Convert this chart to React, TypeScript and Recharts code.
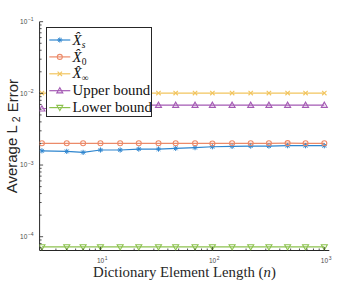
import React from 'react';
import { LineChart, Line, XAxis, YAxis, Legend } from 'recharts';

// ---- data ----
const nValues = [3, 5, 7, 10, 15, 22, 33, 47, 70, 100, 150, 220, 320, 470, 680, 1000];
const errXs = [1.58e-3, 1.55e-3, 1.5e-3, 1.62e-3, 1.62e-3, 1.67e-3, 1.67e-3, 1.71e-3, 1.75e-3, 1.8e-3, 1.82e-3, 1.84e-3, 1.84e-3, 1.86e-3, 1.86e-3, 1.86e-3];
const errX0 = [2.01e-3, 2.01e-3, 2.01e-3, 2.01e-3, 2.01e-3, 2.01e-3, 2.01e-3, 2.01e-3, 2.01e-3, 2.0e-3, 2.01e-3, 2.01e-3, 2.01e-3, 2.02e-3, 2.01e-3, 2.01e-3];
const errXinf = [1.01e-2, 1.01e-2, 1.01e-2, 1.01e-2, 1.01e-2, 1.01e-2, 1.01e-2, 1.01e-2, 1.01e-2, 1.01e-2, 1.01e-2, 1.01e-2, 1.01e-2, 1.01e-2, 1.01e-2, 1.01e-2];
const upperBound = [6.1e-3, 6.4e-3, 6.6e-3, 6.75e-3, 6.8e-3, 6.85e-3, 6.85e-3, 6.85e-3, 6.85e-3, 6.85e-3, 6.85e-3, 6.85e-3, 6.85e-3, 6.85e-3, 6.85e-3, 6.85e-3];
const lowerBound = [7.2e-5, 7.2e-5, 7.2e-5, 7.2e-5, 7.2e-5, 7.2e-5, 7.2e-5, 7.2e-5, 7.2e-5, 7.2e-5, 7.2e-5, 7.2e-5, 7.2e-5, 7.2e-5, 7.2e-5, 7.2e-5];

const X_DOMAIN: [number, number] = [2.86, 1108];
const Y_DOMAIN: [number, number] = [6.42e-5, 0.1];
const xDecades = [0, 1, 2, 3];
const yDecades = [-5, -4, -3, -2, -1];
const mantissas = [1, 2, 3, 4, 5, 6, 7, 8, 9];

const buildTicks = (decades: number[], dom: [number, number]) => {
  const out: number[] = [];
  decades.forEach((d) =>
    mantissas.forEach((m) => {
      const v = m * Math.pow(10, d);
      if (v >= dom[0] * 0.999 && v <= dom[1] * 1.001) out.push(v);
    })
  );
  return out;
};
const xTicks = buildTicks(xDecades, X_DOMAIN);
const yTicks = buildTicks(yDecades, Y_DOMAIN);

type Series = { key: string; values: number[]; hat: boolean; label: string; sub?: string; subItalic?: boolean; color: string; marker: string };
const SERIES: Series[] = [
  { key: 'xs', values: errXs, hat: true, label: 'X\u0302', sub: 's', subItalic: true, color: '#2F86CF', marker: 'star' },
  { key: 'x0', values: errX0, hat: true, label: 'X\u0302', sub: '0', color: '#EC8A69', marker: 'circle' },
  { key: 'xinf', values: errXinf, hat: true, label: 'X\u0302', sub: '\u221E', color: '#F2C55E', marker: 'x' },
  { key: 'ub', values: upperBound, hat: false, label: 'Upper bound', color: '#A45AB4', marker: 'triUp' },
  { key: 'lb', values: lowerBound, hat: false, label: 'Lower bound', color: '#8CC24E', marker: 'triDown' },
];

const rows = nValues.map((n, i) => {
  const r: Record<string, number> = { n };
  SERIES.forEach((s) => (r[s.key] = s.values[i]));
  return r;
});

const AXIS = '#262626';
const TICKTXT = '#4a4a4a';
const SANS = 'Liberation Sans, Arial, Helvetica, sans-serif';
const SERIF = 'Liberation Serif, Times New Roman, serif';

const isDecade = (v: number) => Math.abs(Math.log10(v) - Math.round(Math.log10(v))) < 1e-6;
const expText = (v: number) => {
  const e = Math.round(Math.log10(v));
  return e < 0 ? `\u2212${-e}` : String(e);
};

function Marker({ type, cx, cy, color }: { type: string; cx: number; cy: number; color: string }) {
  if (cx == null || cy == null || isNaN(cx) || isNaN(cy)) return null;
  const r = 2.6;
  const d = r * 0.72;
  switch (type) {
    case 'star':
      return (
        <g stroke={color} strokeWidth={1}>
          <line x1={cx - r} y1={cy} x2={cx + r} y2={cy} />
          <line x1={cx} y1={cy - r} x2={cx} y2={cy + r} />
          <line x1={cx - d} y1={cy - d} x2={cx + d} y2={cy + d} />
          <line x1={cx - d} y1={cy + d} x2={cx + d} y2={cy - d} />
        </g>
      );
    case 'circle':
      return <circle cx={cx} cy={cy} r={2.5} fill="none" stroke={color} strokeWidth={1.1} />;
    case 'x':
      return (
        <g stroke={color} strokeWidth={1.1}>
          <line x1={cx - 2.2} y1={cy - 2.2} x2={cx + 2.2} y2={cy + 2.2} />
          <line x1={cx - 2.2} y1={cy + 2.2} x2={cx + 2.2} y2={cy - 2.2} />
        </g>
      );
    case 'triUp':
      return <polygon points={`${cx},${cy - 3} ${cx - 3},${cy + 2.2} ${cx + 3},${cy + 2.2}`} fill="none" stroke={color} strokeWidth={1.1} />;
    case 'triDown':
      return <polygon points={`${cx},${cy + 3} ${cx - 3},${cy - 2.2} ${cx + 3},${cy - 2.2}`} fill="none" stroke={color} strokeWidth={1.1} />;
    default:
      return null;
  }
}

function XTick(props: any) {
  const { x, y, payload } = props;
  const v = payload.value;
  const major = isDecade(v);
  return (
    <g>
      <line x1={x} y1={y} x2={x} y2={y - (major ? 3.5 : 2)} stroke={AXIS} strokeWidth={0.8} />
      {major && (
        <text x={x - 3.5} y={y + 12} textAnchor="start" fontFamily={SANS} fontSize={6.5} fill={TICKTXT}>
          10
          <tspan dx={0.6} dy={-3} fontSize={5}>{expText(v)}</tspan>
        </text>
      )}
    </g>
  );
}

function YTick(props: any) {
  const { x, y, payload } = props;
  const v = payload.value;
  const major = isDecade(v);
  return (
    <g>
      <line x1={x} y1={y} x2={x + (major ? 3.5 : 2)} y2={y} stroke={AXIS} strokeWidth={0.8} />
      {major && (
        <text x={x - 6} y={y + 2.3} textAnchor="end" fontFamily={SANS} fontSize={6.5} fill={TICKTXT}>
          10
          <tspan dx={0.6} dy={-2.6} fontSize={5}>{expText(v)}</tspan>
        </text>
      )}
    </g>
  );
}

function YTitle(props: any) {
  const vb = props.viewBox || { x: 0, y: 21.7, width: 39.6, height: 228.8 };
  const cx = 12;
  const cy = vb.y + vb.height / 2;
  return (
    <text
      x={cx}
      y={cy}
      transform={`rotate(-90 ${cx} ${cy})`}
      textAnchor="middle"
      dominantBaseline="central"
      fontFamily={SANS}
      fontSize={15}
      fill={AXIS}
    >
      Average L
      <tspan dx={3} dy={4} fontSize={10.5}>2</tspan>
      <tspan dy={-4}> Error</tspan>
    </text>
  );
}

function XTitle(props: any) {
  const vb = props.viewBox || { x: 39.6, y: 250.5, width: 289.7, height: 30 };
  return (
    <text x={vb.x + vb.width / 2} y={vb.y + 26.2} textAnchor="middle" fontFamily={SERIF} fontSize={14.8} fill={AXIS}>
      Dictionary Element Length (<tspan fontStyle="italic">n</tspan>)
    </text>
  );
}

function LegendBox() {
  const w = 106.6;
  const h = 90.6;
  return (
    <div style={{ width: w, height: h, boxSizing: 'border-box', border: `1px solid ${AXIS}`, background: '#fff' }}>
      <svg width={w - 2} height={h - 2} style={{ display: 'block' }}>
        {SERIES.map((s, i) => {
          const cy = 12 + i * 16.9;
          return (
            <g key={s.key}>
              <line x1={2.3} x2={23.3} y1={cy} y2={cy} stroke={s.color} strokeWidth={1.2} />
              <Marker type={s.marker} cx={12.8} cy={cy} color={s.color} />
              <text x={25.6} y={cy + 4.6} fontFamily={SERIF} fontSize={14.8} fill="#111">
                {s.hat ? <tspan fontStyle="italic">{s.label}</tspan> : s.label}
                {s.sub && (
                  <tspan dy={3} fontSize={9.5} fontStyle={s.subItalic ? 'italic' : 'normal'}>
                    {s.sub}
                  </tspan>
                )}
              </text>
            </g>
          );
        })}
      </svg>
    </div>
  );
}

export default function App() {
  return (
    <div style={{ position: 'absolute', left: 0, top: 0, width: 337, height: 281, background: '#fff' }}>
      <LineChart width={337} height={281} data={rows} margin={{ top: 21.7, right: 7.7, bottom: 0.5, left: 0 }}>
        <XAxis
          dataKey="n"
          type="number"
          scale="log"
          domain={X_DOMAIN}
          allowDataOverflow
          ticks={xTicks}
          interval={0}
          tickSize={0}
          tickMargin={0}
          tick={<XTick />}
          tickLine={false}
          axisLine={{ stroke: AXIS, strokeWidth: 1 }}
          height={30}
          label={<XTitle />}
        />
        <YAxis
          type="number"
          scale="log"
          domain={Y_DOMAIN}
          allowDataOverflow
          ticks={yTicks}
          interval={0}
          tickSize={0}
          tickMargin={0}
          tick={<YTick />}
          tickLine={false}
          axisLine={{ stroke: AXIS, strokeWidth: 1 }}
          width={39.6}
          label={<YTitle />}
        />
        {SERIES.map((s) => (
          <Line
            key={s.key}
            dataKey={s.key}
            name={s.key}
            stroke={s.color}
            strokeWidth={1.2}
            isAnimationActive={false}
            activeDot={false}
            dot={(p: any) => <Marker key={`${s.key}-${p.index}`} type={s.marker} cx={p.cx} cy={p.cy} color={s.color} />}
          />
        ))}
        <Legend
          layout="vertical"
          align="center"
          verticalAlign="middle"
          content={() => <LegendBox />}
          wrapperStyle={{ position: 'absolute', left: 45.7, top: 26.7, width: 106.6, height: 90.6 }}
        />
      </LineChart>
    </div>
  );
}
